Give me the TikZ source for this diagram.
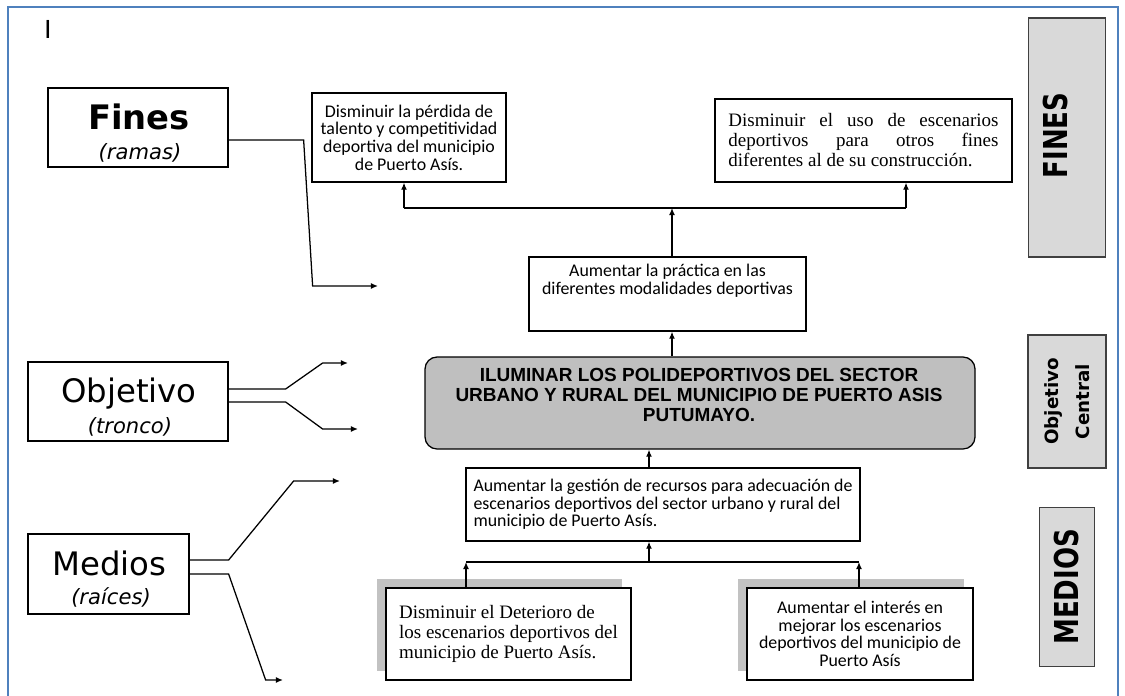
\documentclass[tikz,border=0pt]{standalone}
\usepackage{fontspec}
\setmainfont{Carlito}
\newfontfamily\versans{DejaVu Sans}
\newfontfamily\arialf{Liberation Sans}
\newfontfamily\timesf{Liberation Serif}
\usetikzlibrary{positioning, arrows.meta, shadows}
\definecolor{marco}{RGB}{79,129,189}

\begin{document}
\begin{tikzpicture}[x=0.025cm, y=-0.025cm,
    caja/.style={draw, line width=0.9pt, fill=white, align=center, inner sep=0pt},
    calib/.style={font=\fontsize{12.7}{12.6}\selectfont},
    serifa/.style={font=\timesf\fontsize{13.5}{14.2}\selectfont},
    sombra/.style={drop shadow={shadow xshift=-0.225cm, shadow yshift=0.225cm, fill=black!24, opacity=1}},
    etiqueta/.style={draw=black!75, line width=1.2pt, fill=black!15, rotate=90, inner sep=0pt},
    flecha/.style={-{Latex[length=5pt,width=4.2pt]}, line width=0.9pt},
    linea/.style={line width=0.9pt}]
  %tikz arbol de objetivos, polideportivos Puerto Asis
  \def\u{0.025cm}
  \useasboundingbox (0,0) rectangle (1125,696);
  \draw[marco, line width=1.5pt] (8,696) -- (8,7) -- (1118,7) -- (1118,696);
  \node[font=\fontsize{20}{20}\selectfont] (cursor) at (48,29) {I};

  % leyenda izquierda
  \node[caja, minimum width=180*\u, minimum height=79*\u] (fines) at (138,127.5) {};
  \node[anchor=base, font=\versans\bfseries\fontsize{24}{24}\selectfont] (finestit) at (139,129) {Fines};
  \node[anchor=base, font=\versans\itshape\fontsize{15}{15}\selectfont] (finessub) at (140,159) {(ramas)};
  \node[caja, minimum width=200*\u, minimum height=79*\u] (objetivo) at (128,401.5) {};
  \node[anchor=base, font=\versans\fontsize{23}{23}\selectfont] (objetivotit) at (129,402) {Objetivo};
  \node[anchor=base, font=\versans\itshape\fontsize{15}{15}\selectfont] (objetivosub) at (130,433) {(tronco)};
  \node[caja, minimum width=161*\u, minimum height=80*\u] (medios) at (108.5,574) {};
  \node[anchor=base, font=\versans\fontsize{23}{23}\selectfont] (mediostit) at (109.5,575) {Medios};
  \node[anchor=base, font=\versans\itshape\fontsize{15}{15}\selectfont] (mediossub) at (111,604) {(raíces)};

  \coordinate (finesend) at (378,286);
  \coordinate (objA) at (348,363);
  \coordinate (objB) at (358,429);
  \coordinate (medA) at (340,481);
  \coordinate (medB) at (283,680);
  \draw[flecha] (fines.east) ++(0,12.5) -- ++(75,0) -- ++(9,146) -- (finesend);
  \draw[flecha] (objetivo.east) ++(0,-12.5) -- ++(57,0) -- ++(37,-26) -- (objA);
  \draw[flecha] (objetivo.east) ++(0,0.5) -- ++(57,0) -- ++(37,27) -- (objB);
  \draw[flecha] (medios.east) ++(0,-14) -- ++(39,0) -- ++(65,-79) -- (medA);
  \draw[flecha] (medios.east) -- ++(39,0) -- ++(37,106) -- (medB);

  % fines
  \node[caja, calib, minimum width=194*\u, minimum height=89*\u] (perdida) at (409,137.5)
    {Disminuir la pérdida de\\talento y competitividad\\deportiva del municipio\\de Puerto Asís.};
  \node[caja, serifa, align=justify, text width=6.75cm, inner xsep=0.3375cm, minimum height=83*\u] (uso) at (863.5,140.5)
    {Disminuir el uso de escenarios\linebreak deportivos para otros fines\linebreak diferentes al de su construcción.};
  \node[caja, minimum width=277*\u, minimum height=74*\u] (practica) at (667.5,294) {};
  \node[calib, align=center] (practicatxt) at (667.5,281) {Aumentar la práctica en las\\diferentes modalidades deportivas};

  % objetivo central
  \node[caja, fill=black!25, rounded corners=0.3cm, minimum width=550*\u, minimum height=92*\u] (central) at (700,403) {};
  \node[font=\arialf\bfseries\fontsize{13.5}{14.2}\selectfont, align=center] (centraltxt) at (699,395)
    {ILUMINAR LOS POLIDEPORTIVOS DEL SECTOR\\URBANO Y RURAL DEL MUNICIPIO DE PUERTO ASIS\\PUTUMAYO.};

  % medios
  \node[caja, calib, align=left, minimum width=394*\u, minimum height=73*\u] (gestion) at (663,504.5)
    {Aumentar la gestión de recursos para adecuación de\\escenarios deportivos del sector urbano y rural del\\municipio de Puerto Asís.};
  \node[caja, serifa, sombra, align=left, minimum width=245*\u, minimum height=92*\u] (deterioro) at (508.5,634)
    {Disminuir el Deterioro de\\los escenarios deportivos del\\municipio de Puerto Asís.};
  \node[caja, calib, sombra, minimum width=226*\u, minimum height=92*\u] (interes) at (860,634)
    {Aumentar el interés en\\mejorar los escenarios\\deportivos del municipio de\\Puerto Asís};

  % conectores
  \coordinate (jfin) at (672,208);
  \coordinate (jfinl) at (404,208);
  \coordinate (jfinr) at (906,208);
  \draw[linea] (jfinl) -- (jfinr);
  \draw[flecha] (jfinl) -- (jfinl |- perdida.south);
  \draw[flecha] (jfinr) -- (jfinr |- uso.south);
  \draw[flecha] (jfin |- practica.north) -- (jfin);
  \draw[flecha] (jfin |- central.north) -- (jfin |- practica.south);
  \coordinate (jmed) at (649,562);
  \coordinate (jmedl) at (466,562);
  \coordinate (jmedr) at (859,562);
  \draw[flecha] (jmed |- gestion.north) -- (jmed |- central.south);
  \draw[linea] (jmedl) -- (jmedr);
  \draw[flecha] (jmed) -- (jmed |- gestion.south);
  \draw[flecha] (jmedl |- deterioro.north) -- (jmedl);
  \draw[flecha] (jmedr |- interes.north) -- (jmedr);

  % etiquetas derecha
  \node[etiqueta, minimum width=239*\u, minimum height=77*\u] (lblfines) at (1067,137.5) {};
  \node[rotate=90, font=\versans\bfseries\fontsize{23.4}{24}\selectfont] (lblfinestxt) at (1056,135.5) {\scalebox{0.79}[1]{FINES}};
  \node[etiqueta, align=center, font=\versans\bfseries\fontsize{13}{22}\selectfont, minimum width=133*\u, minimum height=78*\u] (lblobj) at (1067,401.5) {Objetivo\\Central};
  \node[etiqueta, font=\versans\bfseries\fontsize{23.4}{24}\selectfont, minimum width=159*\u, minimum height=55*\u] (lblmedios) at (1067,587) {\scalebox{0.79}[1]{MEDIOS}};
\end{tikzpicture}
\end{document}
